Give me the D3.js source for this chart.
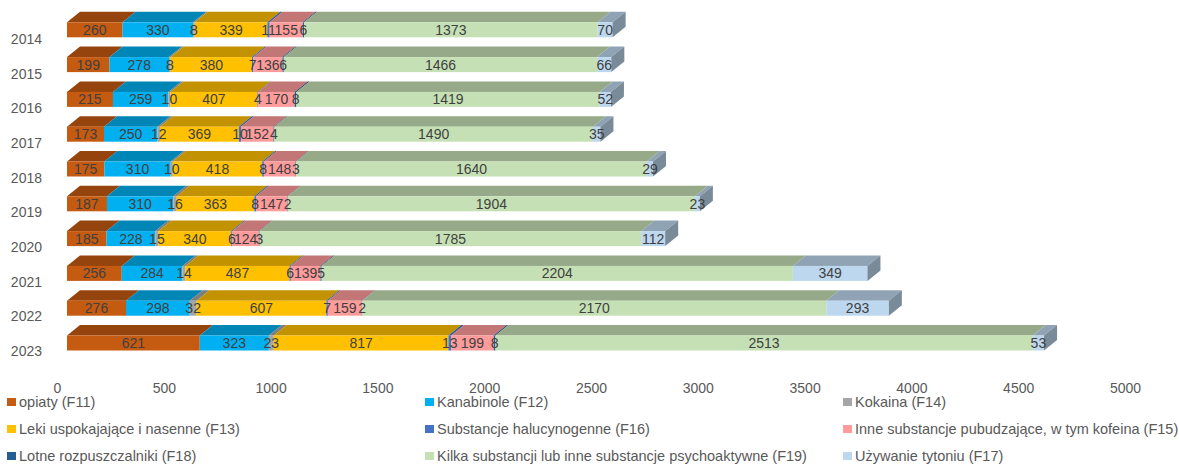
<!DOCTYPE html>
<html><head><meta charset="utf-8">
<script src="https://cdn.jsdelivr.net/npm/d3@7"></script>
<style>body{margin:0;background:#fff}svg{display:block;font-family:"Liberation Sans",Arial,sans-serif}</style>
</head><body><svg id="c" width="1179" height="465"></svg>
<script>
const years = ['2014','2015','2016','2017','2018','2019','2020','2021','2022','2023'];
const seriesNames = ['opiaty (F11)','Kanabinole (F12)','Kokaina (F14)','Leki uspokajające i nasenne (F13)','Substancje halucynogenne (F16)','Inne substancje pubudzające, w tym kofeina (F15)','Lotne rozpuszczalniki (F18)','Kilka substancji lub inne substancje psychoaktywne (F19)','Używanie tytoniu (F17)'];
const opiaty     = [260,199,215,173,175,187,185,256,276,621];
const kanabinole = [330,278,259,250,310,310,228,284,298,323];
const kokaina    = [8,8,10,12,10,16,15,14,32,23];
const leki       = [339,380,407,369,418,363,340,487,607,817];
const halucyn    = [11,7,4,10,8,8,6,6,7,13];
const inne       = [155,136,170,152,148,147,124,139,159,199];
const lotne      = [6,6,8,4,3,2,3,5,2,8];
const kilka      = [1373,1466,1419,1490,1640,1904,1785,2204,2170,2513];
const tyton      = [70,66,52,35,29,23,112,349,293,53];
const xTicks = [0,500,1000,1500,2000,2500,3000,3500,4000,4500,5000];

const seriesValues = [opiaty,kanabinole,kokaina,leki,halucyn,inne,lotne,kilka,tyton];
const frontColors = ['#C55A11','#00B0F0','#A5A5A5','#FFC000','#4472C4','#FF9B9B','#255E91','#C5E0B4','#BDD7EE'];

const svg = d3.select('#c');
const x = d3.scaleLinear().domain([0,5000]).range([67, 67+5000*0.2138]);
const xAx = d3.scaleLinear().domain([0,5000]).range([57, 1125]);
const y = d3.scalePoint().domain(years).range([29.8, 343]);
const yLab = d3.scalePoint().domain(years).range([39, 351]);
const FH = 15, DX = 13, DY = 10.5;

const keys = d3.range(seriesNames.length);
const rows = years.map((yr,i)=>{const r={year:yr}; keys.forEach(k=>r[k]=seriesValues[k][i]); return r;});
const stack = d3.stack().keys(keys)(rows);

function dark(c,f){const r=d3.rgb(c); return d3.rgb(r.r*f,r.g*f,r.b*f).formatHex();}

const g = svg.append('g');
years.forEach((yr,i)=>{
  const c = y(yr), top = c-FH/2, bot = c+FH/2;
  const bar = g.append('g');
  stack.forEach((layer,k)=>{
    const d = layer[i];
    const x0 = x(d[0]), x1 = x(d[1]);
    bar.append('polygon')
      .attr('points',[[x0,top],[x1,top],[x1+DX,top-DY],[x0+DX,top-DY]].map(p=>p.join(',')).join(' '))
      .attr('fill',dark(frontColors[k],0.76));
    bar.append('rect').attr('x',x0).attr('y',top).attr('width',Math.max(0,x1-x0)).attr('height',FH)
      .attr('fill',frontColors[k]);
  });
  const last = stack[stack.length-1][i];
  const xe = x(last[1]);
  bar.append('polygon')
    .attr('points',[[xe,top],[xe+DX,top-DY],[xe+DX,bot-DY],[xe,bot]].map(p=>p.join(',')).join(' '))
    .attr('fill',dark(frontColors[frontColors.length-1],0.64));
  stack.forEach((layer,k)=>{
    const d = layer[i];
    bar.append('text').attr('x',(x(d[0])+x(d[1]))/2).attr('y',c)
      .attr('text-anchor','middle').attr('dominant-baseline','central')
      .attr('font-size',14).attr('fill','#404040').text(d.data[k]);
  });
});

const xa = svg.append('g').attr('transform','translate(0,383)')
  .call(d3.axisBottom(xAx).tickValues(xTicks).tickSize(0).tickPadding(0).tickFormat(d3.format('d')));
xa.select('.domain').remove();
xa.selectAll('text').attr('font-size',14).attr('fill','#595959').attr('font-family','Liberation Sans, Arial, sans-serif');

const ya = svg.append('g').attr('transform','translate(42,0)')
  .call(d3.axisLeft(yLab).tickSize(0).tickPadding(0));
ya.select('.domain').remove();
ya.selectAll('text').attr('font-size',14).attr('fill','#595959').attr('font-family','Liberation Sans, Arial, sans-serif');

const colX = [7,425,843], rowY = [402,429,456];
const leg = svg.append('g');
seriesNames.forEach((n,k)=>{
  const cx = colX[k%3], cy = rowY[Math.floor(k/3)];
  leg.append('rect').attr('x',cx).attr('y',cy-4).attr('width',9).attr('height',8).attr('fill',frontColors[k]);
  leg.append('text').attr('x',cx+12).attr('y',cy).attr('dominant-baseline','central')
    .attr('font-size',14.5).attr('fill','#595959').text(n);
});
</script></body></html>
